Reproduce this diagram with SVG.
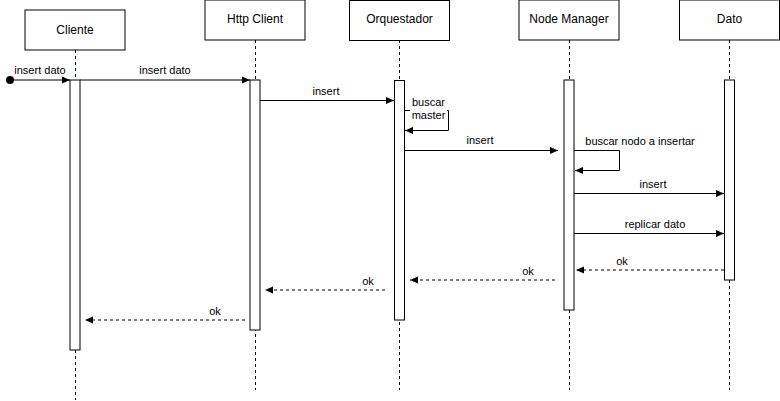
<svg xmlns="http://www.w3.org/2000/svg" width="780" height="401" viewBox="0 0 780 401">
<defs>
<marker id="arr" viewBox="0 0 8 8" refX="8" refY="4" markerWidth="8" markerHeight="8" markerUnits="userSpaceOnUse" orient="auto">
<path d="M0,0.5 L8,4 L0,7.5 Z" fill="#000"/>
</marker>
<style>
.box{fill:#fff;stroke:#000;stroke-width:1}
.act{fill:#fff;stroke:#000;stroke-width:1}
.life{stroke:#000;stroke-width:1;stroke-dasharray:3 3;fill:none}
.msg{stroke:#000;stroke-width:1;fill:none;marker-end:url(#arr)}
.ret{stroke:#000;stroke-width:1;fill:none;stroke-dasharray:3 3;marker-end:url(#arr)}
.nt{font-family:"Liberation Sans",Arial,sans-serif;font-size:12px;fill:#000;text-anchor:middle;dominant-baseline:central}
.lt{font-family:"Liberation Sans",Arial,sans-serif;font-size:11px;fill:#000;text-anchor:middle;dominant-baseline:central}
</style>
</defs>
<rect width="780" height="401" fill="#fff"/>
<g id="cliente">
<rect class="box" x="25" y="10" width="100" height="40"/>
<text class="nt" x="75" y="30">Cliente</text>
<line class="life" x1="75.5" y1="50" x2="75.5" y2="400"/>
<rect class="act" x="70" y="80" width="10" height="270"/>
</g>
<g id="httpclient">
<rect class="box" x="205" y="0" width="100" height="40"/>
<text class="nt" x="255" y="19">Http Client</text>
<line class="life" x1="255.5" y1="40" x2="255.5" y2="390"/>
<rect class="act" x="250" y="80" width="10" height="250"/>
</g>
<g id="orquestador">
<rect class="box" x="349.5" y="0.5" width="100" height="40"/>
<text class="nt" x="399.5" y="19">Orquestador</text>
<line class="life" x1="399.5" y1="40" x2="399.5" y2="390"/>
<rect class="act" x="394.5" y="80.5" width="10" height="239.5"/>
</g>
<g id="nodemanager">
<rect class="box" x="519" y="0" width="100" height="40"/>
<text class="nt" x="569" y="19">Node Manager</text>
<line class="life" x1="569.5" y1="40" x2="569.5" y2="390"/>
<rect class="act" x="564" y="80" width="10" height="230"/>
</g>
<g id="dato">
<rect class="box" x="679.5" y="0" width="100" height="40"/>
<text class="nt" x="729.5" y="19">Dato</text>
<line class="life" x1="729.5" y1="40" x2="729.5" y2="390"/>
<rect class="act" x="724.5" y="80" width="10" height="200"/>
</g>
<g id="connectors">
<circle cx="10" cy="80" r="4" fill="#000"/>
<line class="msg" x1="10" y1="80" x2="70" y2="80"/>
<text class="lt" x="40" y="70">insert dato</text>
<line class="msg" x1="80" y1="80" x2="250" y2="80"/>
<text class="lt" x="165" y="70">insert dato</text>
<line class="msg" x1="260" y1="100.5" x2="394" y2="100.5"/>
<text class="lt" x="326" y="91">insert</text>
<polyline class="msg" points="405,110.5 448.5,110.5 448.5,130.5 405,130.5"/>
<rect x="410" y="96" width="37" height="26" fill="#fff"/>
<text class="lt" x="428.5" y="102">buscar</text>
<text class="lt" x="428.5" y="115">master</text>
<line class="msg" x1="405" y1="150.5" x2="558" y2="150.5"/>
<text class="lt" x="480" y="140">insert</text>
<polyline class="msg" points="574,150.5 619.5,150.5 619.5,170.5 575,170.5"/>
<text class="lt" x="640" y="141">buscar nodo a insertar</text>
<line class="msg" x1="574" y1="193.5" x2="724" y2="193.5"/>
<text class="lt" x="653" y="184">insert</text>
<line class="msg" x1="574" y1="233.5" x2="724" y2="233.5"/>
<text class="lt" x="655" y="224">replicar dato</text>
<line class="ret" x1="724" y1="270" x2="576" y2="270"/>
<text class="lt" x="622" y="260.5">ok</text>
<line class="ret" x1="555" y1="280" x2="410" y2="280"/>
<text class="lt" x="528" y="270.5">ok</text>
<line class="ret" x1="385" y1="290" x2="265" y2="290"/>
<text class="lt" x="368" y="280.5">ok</text>
<line class="ret" x1="245" y1="320" x2="85" y2="320"/>
<text class="lt" x="215" y="310.5">ok</text>
</g>
</svg>
